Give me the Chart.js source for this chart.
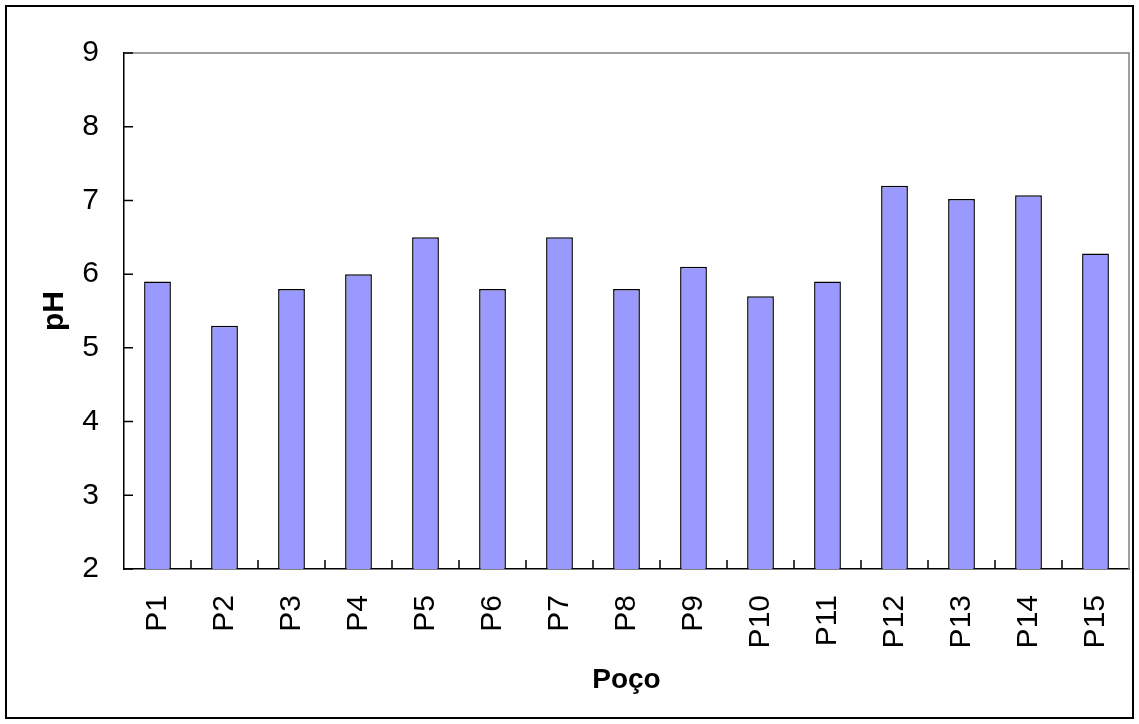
<!DOCTYPE html>
<html>
<head>
<meta charset="utf-8">
<script src="https://cdn.jsdelivr.net/npm/chart.js@4"></script>
<style>
  body { margin: 0; background: #fff; }
</style>
</head>
<body>
<canvas id="graficoPH" width="1139" height="724"></canvas>
<script>
let graficoPH = document.getElementById("graficoPH");

const pocos = ["P1","P2","P3","P4","P5","P6","P7","P8","P9","P10","P11","P12","P13","P14","P15"];
const valoresPH = [5.9,5.3,5.8,6.0,6.5,5.8,6.5,5.8,6.1,5.7,5.9,7.2,7.02,7.07,6.28];
const ticksPH = [2,3,4,5,6,7,8,9];

const fonte = "'Liberation Sans', Arial, sans-serif";

// marcas dos eixos para dentro + moldura
const marcas = {
  id: 'marcas',
  afterDraw(chart) {
    const ctx = chart.ctx;
    const area = chart.chartArea;
    const x = chart.scales.x;
    const y = chart.scales.y;
    ctx.save();
    ctx.strokeStyle = '#808080';
    ctx.lineWidth = 1.5;
    ctx.beginPath();
    ctx.moveTo(area.left, area.top);
    ctx.lineTo(area.right, area.top);
    ctx.lineTo(area.right, area.bottom);
    ctx.stroke();

    ctx.strokeStyle = '#000';
    ctx.lineWidth = 1.5;
    ctx.beginPath();
    ticksPH.forEach(v => {
      let py = y.getPixelForValue(v);
      ctx.moveTo(area.left, py);
      ctx.lineTo(area.left + 9, py);
    });
    for (let i = 0; i < pocos.length - 1; i++) {
      let px = (x.getPixelForValue(i) + x.getPixelForValue(i + 1)) / 2;
      ctx.moveTo(px, area.bottom);
      ctx.lineTo(px, area.bottom - 9);
    }
    ctx.stroke();

    ctx.lineWidth = 2;
    ctx.strokeRect(6, 6, 1127, 712);
    ctx.restore();
  }
};

const dataPH = {
  labels: pocos,
  datasets: [
    {
      label: 'pH',
      data: valoresPH,
      backgroundColor: '#9999FF',
      borderColor: '#000',
      borderWidth: 1.5,
      barPercentage: 0.4,
      categoryPercentage: 1.0
    }
  ]
};

const configPH = {
  type: 'bar',
  data: dataPH,
  options: {
    responsive: false,
    animation: false,
    devicePixelRatio: 1,
    layout: {
      padding: { top: 53, right: 10, bottom: 0, left: 0 }
    },
    plugins: {
      legend: { display: false },
      tooltip: { enabled: false }
    },
    scales: {
      x: {
        grid: { display: false, drawTicks: false },
        border: { color: '#000', width: 1.5 },
        ticks: {
          color: '#000',
          autoSkip: false,
          maxRotation: 90,
          minRotation: 90,
          padding: 26,
          font: { family: fonte, size: 30 }
        },
        title: {
          display: true,
          text: 'Poço',
          color: '#000',
          padding: { top: 0, bottom: 27 },
          font: { family: fonte, size: 28, weight: 'bold' }
        },
        afterFit(scale) {
          scale.height = 155;
          scale.paddingLeft = 0;
          scale.paddingRight = 0;
        }
      },
      y: {
        min: 2,
        max: 9,
        grid: { display: false, drawTicks: false },
        border: { color: '#000', width: 1.5 },
        ticks: {
          color: '#000',
          stepSize: 1,
          padding: 25,
          font: { family: fonte, size: 30 }
        },
        title: {
          display: true,
          text: 'pH',
          color: '#000',
          padding: { top: 37, bottom: 0 },
          font: { family: fonte, size: 30, weight: 'bold' }
        },
        afterFit(scale) { scale.width = 124; }
      }
    }
  },
  plugins: [marcas]
};

let graficoPHVer = new Chart(graficoPH, configPH);
</script>
</body>
</html>
